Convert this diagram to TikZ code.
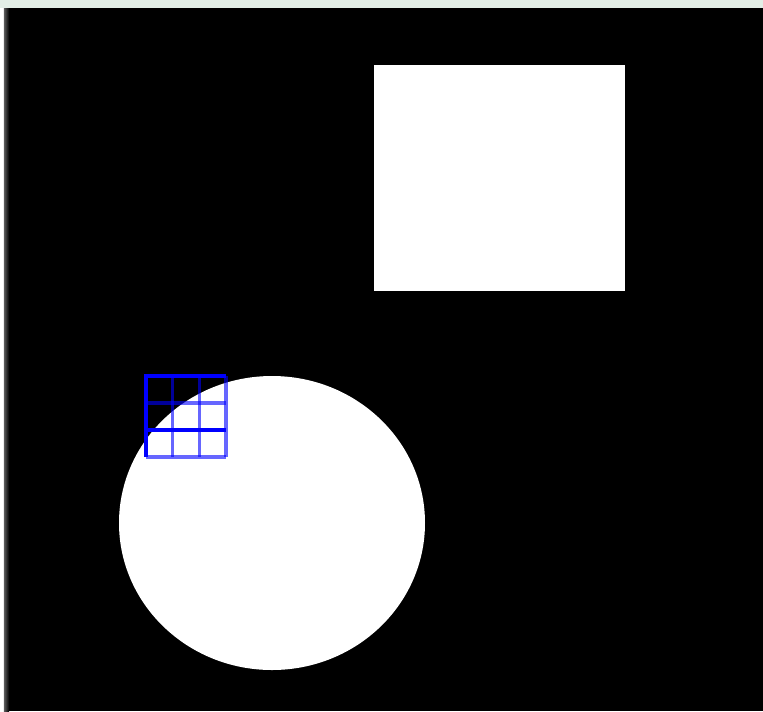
\documentclass[tikz,border=0pt]{standalone}
\definecolor{paleband}{HTML}{E3EEE6}
\begin{document}
\begin{tikzpicture}[x=0.01cm,y=-0.01cm,line width=3.5*0.01cm]
  \useasboundingbox(0,0)rectangle(763,711);
  \fill[white](0,0)rectangle(763,711);
  \fill[paleband](0,0)rectangle(763,8);
  % image area
  \fill[black](5,8)rectangle(763,711);
  \shade[left color=gray!70!black,right color=black](4,8)rectangle(9,711);
  \fill[white](374,65)rectangle(625,291);
  \fill[white](272,523)ellipse(153 and 147);
  % pixel grid
  \foreach \i in {0,...,3}
  {
    \draw[blue,opacity=.6](146+26.7*\i,376)--++(0,81);
    \draw[blue,opacity=.6](146,376+27*\i)--++(80,0);
  }
  \draw[blue](146,457)--(146,376)--(226,376)(146,430)--(226,430);
\end{tikzpicture}
\end{document}
